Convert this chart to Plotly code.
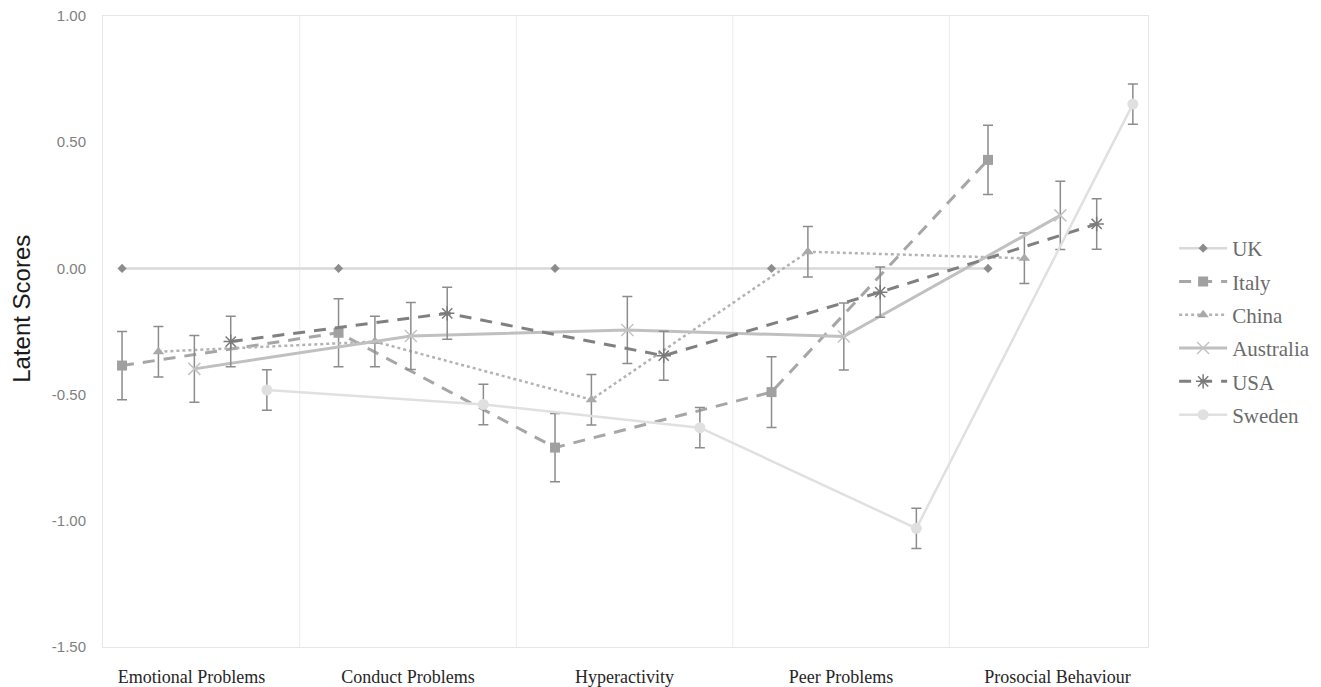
import plotly.graph_objects as go

categories = ["Emotional Problems", "Conduct Problems", "Hyperactivity", "Peer Problems", "Prosocial Behaviour"]
y_ticks = [1.0, 0.5, 0.0, -0.5, -1.0, -1.5]
y_tick_labels = ["1.00", "0.50", "0.00", "-0.50", "-1.00", "-1.50"]

uk = [0.0, 0.0, 0.0, 0.0, 0.0]
italy = [-0.385, -0.255, -0.71, -0.49, 0.43]
italy_err = [0.135, 0.135, 0.135, 0.14, 0.137]
china = [-0.33, -0.29, -0.52, 0.066, 0.04]
china_err = [0.10, 0.10, 0.10, 0.10, 0.10]
australia = [-0.398, -0.268, -0.244, -0.27, 0.21]
australia_err = [0.132, 0.133, 0.133, 0.133, 0.135]
usa = [-0.29, -0.178, -0.346, -0.094, 0.176]
usa_err = [0.10, 0.103, 0.097, 0.10, 0.10]
sweden = [-0.482, -0.539, -0.631, -1.03, 0.651]
sweden_err = [0.08, 0.08, 0.08, 0.08, 0.08]

# series definitions: name, values, errors, offset within category, style
series = [
    ("UK", uk, None, -0.321, dict(color="#d9d9d9", width=2.5, dash="solid"),
     dict(symbol="diamond", size=7, color="#8c8c8c")),
    ("Italy", italy, italy_err, -0.321, dict(color="#a6a6a6", width=3, dash="12px,9px"),
     dict(symbol="square", size=10, color="#a0a0a0")),
    ("China", china, china_err, -0.153, dict(color="#b3b3b3", width=2.5, dash="dot"),
     dict(symbol="triangle-up", size=10, color="#a9a9a9")),
    ("Australia", australia, australia_err, 0.013, dict(color="#c0c0c0", width=3, dash="solid"),
     dict(symbol="x-thin-open", size=12, color="#c4c4c4", line=dict(width=1.5, color="#c4c4c4"))),
    ("USA", usa, usa_err, 0.181, dict(color="#808080", width=3, dash="12px,9px"),
     dict(symbol="asterisk-open", size=12, color="#7a7a7a", line=dict(width=1.5, color="#7a7a7a"))),
    ("Sweden", sweden, sweden_err, 0.348, dict(color="#e0e0e0", width=2.5, dash="solid"),
     dict(symbol="circle", size=11, color="#e0e0e0")),
]

fig = go.Figure()
for name, vals, errs, off, line, marker in series:
    xs = [i + off for i in range(len(categories))]
    err = None
    if errs is not None:
        err = dict(type="data", array=errs, visible=True, color="#8c8c8c", thickness=1.5, width=5)
    fig.add_trace(go.Scatter(
        x=xs, y=vals, name=name, mode="lines+markers", legendgroup=name,
        line=line, marker=marker, error_y=err,
    ))

shapes = []
for b in [0.5, 1.5, 2.5, 3.5]:
    shapes.append(dict(type="line", xref="x", yref="paper", x0=b, x1=b, y0=0, y1=1,
                       line=dict(color="#ececec", width=1), layer="below"))

# page body has an 8px default margin, so the figure is sized to fit the window
fig.update_layout(
    width=1313, height=679,
    margin=dict(l=95, r=173, t=8, b=40, autoexpand=False),
    paper_bgcolor="white", plot_bgcolor="white",
    shapes=shapes,
    showlegend=True,
    legend=dict(x=1.025, y=0.5, xanchor="left", yanchor="middle",
                font=dict(family="Liberation Serif", size=21, color="#6b6b6b"),
                itemwidth=48, tracegroupgap=3, bgcolor="rgba(0,0,0,0)"),
    xaxis=dict(range=[-0.409, 4.418], tickvals=list(range(len(categories))), ticktext=categories,
               showgrid=False, zeroline=False, showline=True, linecolor="#e6e6e6", mirror=True,
               ticks="", ticklabelstandoff=13, automargin=False, ticklabeloverflow="allow",
               tickfont=dict(family="Liberation Serif", size=18, color="#262626")),
    yaxis=dict(range=[-1.5, 1.0], tickvals=y_ticks, ticktext=y_tick_labels,
               showgrid=False, zeroline=False, showline=True, linecolor="#e6e6e6", mirror=True,
               ticks="", ticklabelstandoff=13, automargin=False, ticklabeloverflow="allow",
               tickfont=dict(family="Liberation Sans", size=15, color="#7f7f7f")),
    annotations=[dict(text="Latent Scores", textangle=-90, xref="paper", yref="paper",
                      x=-0.0775, y=0.536, xanchor="center", yanchor="middle", showarrow=False,
                      font=dict(family="Liberation Sans", size=24, color="#1a1a1a"))],
)

fig.write_html("out.html")
